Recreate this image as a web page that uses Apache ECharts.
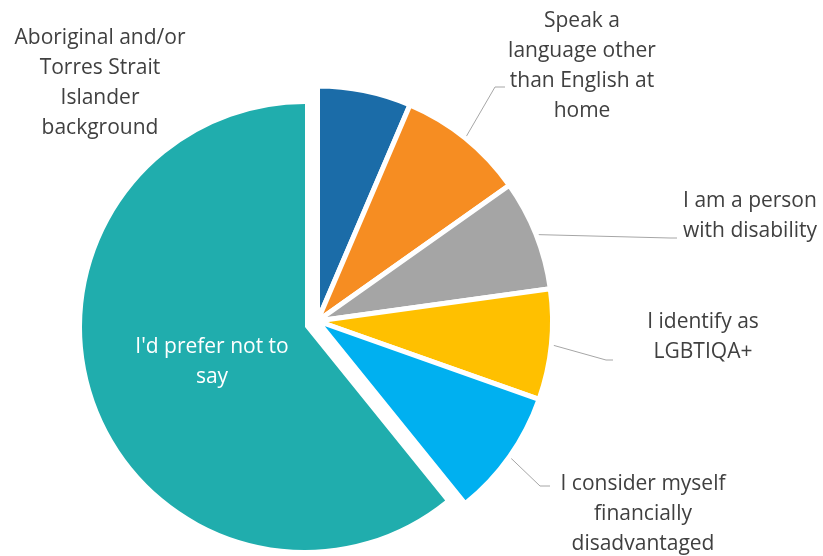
<!DOCTYPE html>
<html>
<head>
<meta charset="utf-8">
<script src="https://cdn.jsdelivr.net/npm/echarts@6/dist/echarts.min.js"></script>
<style>
  html, body { margin: 0; padding: 0; background: #fff; }
  #pie { width: 823px; height: 556px; }
</style>
</head>
<body>
<div id="pie"></div>
<script>
// categories and counts, clockwise from 12 o'clock
var categories = [
  'Aboriginal and/or Torres Strait Islander background',
  'Speak a language other than English at home',
  'I am a person with disability',
  'I identify as LGBTIQA+',
  'I consider myself financially disadvantaged',
  "I'd prefer not to say"
];
var counts = [11, 15, 13, 13, 15, 104];
var labelText = [
  'Aboriginal and/or\nTorres Strait\nIslander\nbackground',
  'Speak a\nlanguage other\nthan English at\nhome',
  'I am a person\nwith disability',
  'I identify as\nLGBTIQA+',
  'I consider myself\nfinancially\ndisadvantaged',
  "I'd prefer not to\nsay"
];
var colors = ['#1b6ca8', '#f68d22', '#a5a5a5', '#ffc000', '#00b0f0', '#20adad'];

// where the labels sit (page px), plus the bend of each leader line
var labelSpots = [
  { x: 100, y: 83 },
  { x: 582, y: 66, knee: [495, 87], end: [505, 87] },
  { x: 750, y: 216, knee: [670, 238], end: [677, 238] },
  { x: 703, y: 337, knee: [606, 360], end: [613, 360] },
  { x: 643, y: 514, knee: [540, 486], end: [550, 486] },
  { x: 212, y: 362 }
];
var bigIdx = 5; // the exploded slice

var chart = echarts.init(document.getElementById('pie'));

function layout(params) {
  var s = labelSpots[params.dataIndex];
  var out = { x: s.x, y: s.y, align: 'center', verticalAlign: 'middle' };
  if (s.knee && params.labelLinePoints) {
    out.labelLinePoints = [params.labelLinePoints[0], s.knee, s.end];
  }
  return out;
}

var textStyle = {
  fontFamily: 'Open Sans',
  fontSize: 21,
  lineHeight: 30,
  color: '#404040'
};

// small slices
var smallData = categories.map(function (name, i) {
  var item = {
    name: name,
    value: counts[i],
    itemStyle: { color: colors[i] },
    label: { formatter: labelText[i] }
  };
  if (i === bigIdx) {
    item.itemStyle = { color: 'transparent', borderWidth: 0 };
    item.label = { show: false };
    item.labelLine = { show: false };
  }
  if (i === 0) item.labelLine = { show: false };
  return item;
});

// the big slice on its own, pulled out and a bit smaller
var bigData = categories.map(function (name, i) {
  var item = { name: name, value: counts[i] };
  if (i === bigIdx) {
    item.itemStyle = { color: colors[i] };
    item.label = { show: true, formatter: labelText[i] };
  } else {
    item.itemStyle = { color: 'transparent' };
    item.label = { show: false };
  }
  return item;
});

var option = {
  animation: false,
  series: [
    {
      type: 'pie',
      silent: true,
      center: [317.5, 321],
      radius: 235,
      startAngle: 90,
      avoidLabelOverlap: false,
      itemStyle: { borderColor: '#fff', borderWidth: 5 },
      label: Object.assign({ show: true, position: 'outside' }, textStyle),
      labelLine: { show: true, lineStyle: { color: '#a6a6a6', width: 1 } },
      labelLayout: layout,
      data: smallData
    },
    {
      type: 'pie',
      silent: true,
      center: [305, 327],
      radius: 223,
      startAngle: 90,
      avoidLabelOverlap: false,
      label: Object.assign({}, textStyle, { position: 'inside', color: '#fff' }),
      labelLine: { show: false },
      labelLayout: layout,
      data: bigData
    }
  ]
};

option && chart.setOption(option);
</script>
</body>
</html>
